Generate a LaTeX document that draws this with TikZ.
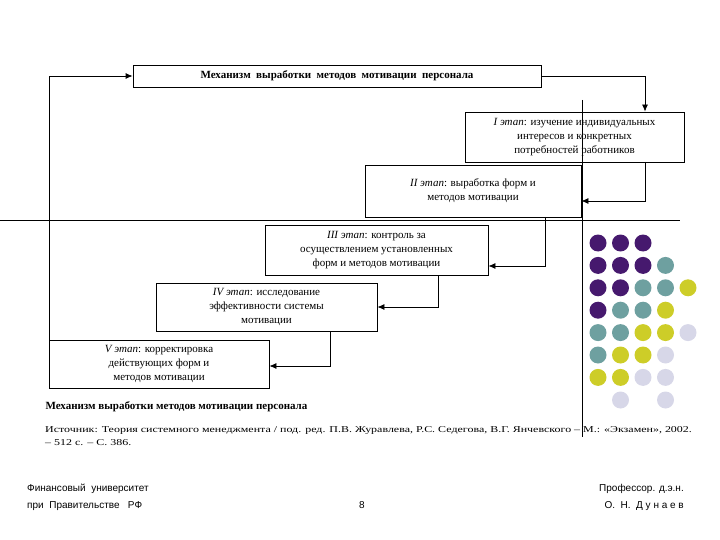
\documentclass[tikz,border=0pt]{standalone}
\usepackage{fontspec}
\setmainfont{Liberation Serif}
\newfontfamily\ftsans{Liberation Sans}
\usetikzlibrary{arrows.meta}
\begin{document}
\begin{tikzpicture}[x=1pt,y=-1pt,
 box/.style={draw,thick,align=center,font=\fontsize{11}{14}\selectfont,inner sep=0pt},
 con/.style={thick,-{Latex[length=7pt,width=6pt]}},
 dot/.style={circle,fill,minimum size=17pt,inner sep=0pt}]
\useasboundingbox (0,0) rectangle (720,540);
\definecolor{cP}{RGB}{70,25,110}\definecolor{cT}{RGB}{110,160,160}
\definecolor{cY}{RGB}{205,205,40}\definecolor{cL}{RGB}{215,215,232}
\node[box,minimum width=408pt,minimum height=22pt] (top) at (337,76) {\textbf{Механизм\ \ выработки\ \ методов\ \ мотивации\ \ персонала}};
\node[box,minimum width=219pt,minimum height=50pt] (s1) at (574.5,137) {\textit{I этап}: изучение индивидуальных\\интересов и конкретных\\потребностей работников};
\node[box,minimum width=216pt,minimum height=52pt] (s2) at (473,191) {\textit{II этап}: выработка форм и\\методов мотивации};
\node[box,minimum width=223pt,minimum height=50pt] (s3) at (376.5,250) {\textit{III этап}: контроль за\\осуществлением установленных\\форм и методов мотивации};
\node[box,minimum width=221pt,minimum height=48pt] (s4) at (266.5,307) {\textit{IV этап}: исследование\\эффективности системы\\мотивации};
\node[box,minimum width=220pt,minimum height=48pt] (s5) at (159,364) {\textit{V этап}: корректировка\\действующих форм и\\методов мотивации};
\coordinate (c1) at (645,76);
\draw[con] (top.east) -- (c1) -- (c1|-s1.north);
\draw[con] (645,162) |- (s2.east|-0,201);
\draw[con] (545,217) |- (s3.east|-0,266);
\draw[con] (438,275) |- (s4.east|-0,307);
\draw[con] (330,331) |- (s5.east|-0,366);
\coordinate (lb) at (49,340);
\draw[con] (lb) |- (top.west);
\draw (0,220) -- (680,220);
\draw (582,100) -- (582,437);
\node[anchor=west,font=\bfseries\fontsize{11}{12}\selectfont] (cap) at (42,407) {Механизм выработки методов мотивации персонала};
\node[anchor=north west,align=left,font=\fontsize{9}{13}\selectfont,inner sep=0pt] (src) at (45,426) {\scalebox{1.33}[1]{Источник: Теория системного менеджмента / под. ред. П.В. Журавлева, Р.С. Седегова, В.Г. Янчевского – М.: «Экзамен», 2002.}\\\scalebox{1.33}[1]{– 512 с. – С. 386.}};
\node[anchor=north west,align=left,font=\ftsans\fontsize{10}{17}\selectfont,inner sep=0pt] (f1) at (27,484) {Финансовый\ \ университет\\при\ \ Правительстве\ \ \ РФ};
\node[font=\ftsans\fontsize{10}{11}\selectfont] (pg) at (362,505) {8};
\node[anchor=north east,align=right,font=\ftsans\fontsize{10}{17}\selectfont,inner sep=0pt] (f2) at (684,484) {Профессор. д.э.н.\\О.\ \ Н.\ \ Д у н а е в};
\foreach \r/\cl in {1/{P,P,P},2/{P,P,P,T},3/{P,P,T,T,Y},4/{P,T,T,Y},5/{T,T,Y,Y,L},6/{T,Y,Y,L},7/{Y,Y,L,L}}{
 \foreach \c [count=\i] in \cl { \node[dot,color=c\c] (d\r\i) at ({598+22.5*(\i-1)},{243+22.4*(\r-1)}) {}; } }
\node[dot,color=cL] (d82) at (620.5,400) {};
\node[dot,color=cL] (d84) at (665.5,400) {};
\end{tikzpicture}
\end{document}
